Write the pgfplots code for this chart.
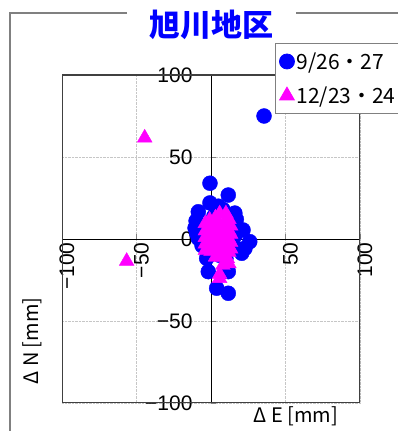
\documentclass[border=0pt]{standalone}
\usepackage{fontspec}
\setmainfont{Liberation Sans}
\newfontfamily\jp{Noto Sans CJK JP}
\usepackage{pgfplots}
\pgfplotsset{compat=1.18}
\pgfplotsset{
  layers/labelsontop/.define layer set={
    axis background,axis grid,axis ticks,axis lines,main,
    axis tick labels,axis descriptions,axis foreground}{},
}
\definecolor{framegray}{RGB}{128,128,128}
\definecolor{boxgray}{RGB}{64,64,64}
\definecolor{ptblue}{RGB}{0,0,255}
\definecolor{ptmagenta}{RGB}{255,0,255}

\pgfplotstableread{
x y
-0.7 34
11.6 26.8
-0.7 22
-8.5 16.6
16 15.8
17 12
21.5 5.5
26 -1.6
22.8 -5.7
20.6 -8.7
-10.7 6.7
-9.6 3.5
-10 11
-8.5 0.4
-2.9 -11.8
-1.8 -19.9
11.6 -19.9
3.8 -30
11.6 -33.1
5 20
8 18
2 14
-5 8
14 -3
16 2
18 -6
0 -5
6 -10
10 -12
-6 -4
12 8
3 2
35.6 75
}\seriesA

\pgfplotstableread{
x y
-44.5 61.7
-56.6 -13.5
-0.9 11.6
3.0 13.0
5.8 15.5
10.0 15.5
12.0 12.0
-3.8 9.5
1.0 9.0
5.0 10.0
9.0 10.5
13.2 8.0
-3.8 5.0
0.0 5.5
4.0 5.0
8.0 6.0
12.0 5.0
13.2 3.0
-3.8 1.0
0.0 0.5
4.0 1.5
8.0 1.0
12.0 0.0
13.2 -2.0
-3.8 -3.0
0.0 -3.5
4.0 -3.0
8.0 -4.0
12.0 -4.5
-3.8 -7.0
0.0 -7.5
4.0 -7.0
8.0 -8.0
12.0 -8.0
13.2 -6.0
3.0 -11.0
7.0 -11.0
11.0 -12.0
8.0 -16.0
12.0 -15.0
5.8 -21.5
5.8 -24.0
}\seriesB

\begin{document}
\begin{tikzpicture}
% outer frame, broken by the title
\draw[framegray, line width=1.3pt] (127pt,418pt) -- (10pt,418pt) -- (10pt,-10pt);
\draw[framegray, line width=1.3pt] (296pt,418pt) -- (420pt,418pt);
\node[text=ptblue, font=\jp\bfseries\fontsize{31}{32}\selectfont] at (211pt,406pt) {旭川地区};

\begin{axis}[
  set layers=labelsontop,
  at={(62pt,28pt)}, anchor=south west,
  scale only axis, width=298pt, height=328pt,
  xmin=-100, xmax=100, ymin=-100, ymax=100,
  axis lines=middle,
  axis line style={-, black, line width=0.7pt},
  hide obscured x ticks=false, hide obscured y ticks=false,
  xtick={-100,-50,0,50,100},
  ytick={-100,-50,0,50,100},
  xticklabels={−100,−50,0,50,100},
  yticklabels={−100,−50,0,50,100},
  tick align=inside, major tick length=5pt,
  tick style={gray, line width=0.6pt},
  ticklabel style={font=\fontsize{21}{21}\selectfont},
  xticklabel style={rotate=90, anchor=east, yshift=-5pt},
  yticklabel style={anchor=east, xshift=-15pt},
  grid=major,
  grid style={densely dotted, gray!45, line width=0.5pt},
  xlabel={Δ E [mm]}, ylabel={Δ N [mm]},
  label style={font=\jp\fontsize{20}{20}\selectfont},
  xlabel style={at={(axis description cs:0.785,-0.04)}, anchor=center},
  ylabel style={at={(axis description cs:-0.1007,0.189)}, anchor=center, rotate=90},
  legend style={at={(axis description cs:0.715,1.0976)}, anchor=north west,
    draw=framegray, line width=0.8pt, fill=white,
    font=\jp\fontsize{21}{24}\selectfont,
    inner xsep=4pt, inner ysep=7pt, row sep=12pt,
    cells={anchor=west}},
  legend image code/.code={%
    \draw[mark repeat=2, mark phase=2, #1]
      plot coordinates {(-7.5pt,0pt) (0pt,0pt) (7.5pt,0pt)};},
]
\addplot[only marks, mark=*, mark size=7.5pt, draw=ptblue, fill=ptblue] table {\seriesA};
\addlegendentry{9/26・27}
\addplot[only marks, mark=triangle*, mark size=8.5pt, draw=ptmagenta, fill=ptmagenta] table {\seriesB};
\addlegendentry{12/23・24}
\draw[boxgray, line width=1.8pt] (rel axis cs:0,0) rectangle (rel axis cs:1,1);
\end{axis}
\pgfresetboundingbox
\path (0pt,0pt) rectangle (398pt,431pt);
\end{tikzpicture}
\end{document}
